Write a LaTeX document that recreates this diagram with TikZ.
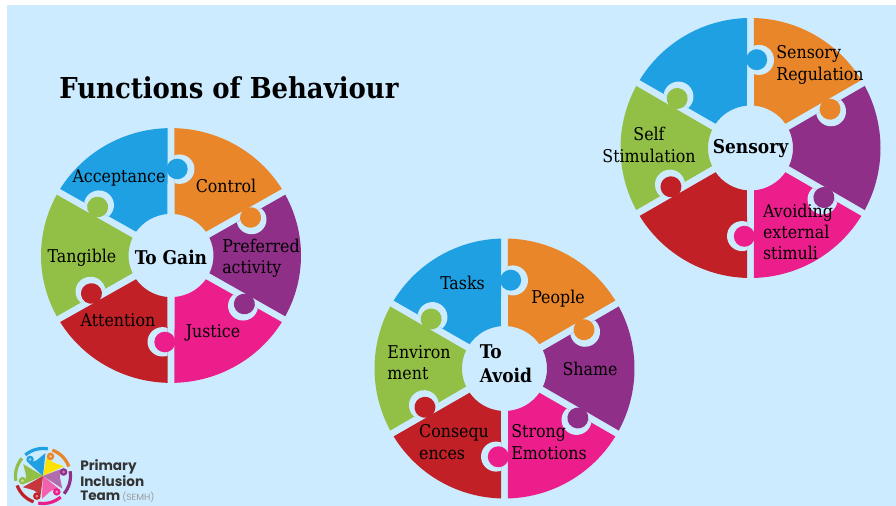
\documentclass[tikz,border=0pt]{standalone}
\usepackage{fontspec}
\setmainfont{DejaVu Serif Condensed}
\newfontfamily\logofont{Poppins}
\usetikzlibrary{positioning}

\definecolor{sky}{HTML}{CDEBFE}
\definecolor{wOrange}{HTML}{E9862A}
\definecolor{wPurple}{HTML}{8F2F87}
\definecolor{wPink}{HTML}{EC1E8B}
\definecolor{wRed}{HTML}{C12026}
\definecolor{wGreen}{HTML}{92BF45}
\definecolor{wBlue}{HTML}{1EA0E2}

\newcommand{\piecepath}{(88.5:130) arc[start angle=88.5,end angle=31.5,radius=130]
	-- (34.8:42.5) arc[start angle=34.8,end angle=85.2,radius=42.5] -- cycle}

\newcommand{\wheel}[3]{
	\foreach \i/\cur/\prev in {0/wOrange/wBlue,1/wPurple/wOrange,2/wPink/wPurple,
			3/wRed/wPink,4/wGreen/wRed,5/wBlue/wGreen}{
		\begin{scope}[shift={(#1,#2)},yscale=#3,rotate={-60*\i}]
			\fill[\cur] \piecepath;
			\begin{scope}
				\clip \piecepath;
				\fill[sky] (84.5:88.5) circle (15);
			\end{scope}
			\fill[\prev] (86:88.5) circle (10.5);
		\end{scope}
	}
}

\tikzset{
	lbl/.style={font=\fontsize{13.2}{16}\selectfont,text=black,inner sep=0pt,align=left},
	hub/.style={font=\fontsize{14.2}{18}\selectfont\bfseries,text=black,inner sep=0pt,align=left},
	logotxt/.style={font=\logofont\fontsize{10.2}{12}\selectfont\bfseries,text=black!80,inner sep=0pt,anchor=west}
}

\begin{document}
\begin{tikzpicture}[x=0.75pt,y=0.75pt]

	\useasboundingbox (0,0) rectangle (896,506);
	\fill[white] (0,0) rectangle (896,506);
	\fill[sky] (7,0) rectangle (896,501);

	\wheel{171}{250.5}{.98}
	\wheel{504.5}{137.5}{1}
	\wheel{750.5}{358}{1}

	\node[font=\fontsize{21.6}{24}\selectfont\bfseries,text=black,inner sep=0pt] (title) at (229,418) {Functions of Behaviour};

	% first wheel
	\node[hub] (gain) at (171,249) {To Gain};
	\node[lbl] (a1) at (226,320) {Control};
	\node[lbl] (a2) at (261,248) {Preferred\\activity};
	\node[lbl] (a3) at (213,173) {Justice};
	\node[lbl] (a4) at (118,186) {Attention};
	\node[lbl] (a5) at (82,248) {Tangible};
	\node[lbl] (a6) at (119,328) {Acceptance};

	% second wheel
	\node[hub] (avoid) at (506,142) {To\\Avoid};
	\node[lbl] (b1) at (558,207) {People};
	\node[lbl] (b2) at (590,137) {Shame};
	\node[lbl] (b3) at (549,64) {Strong\\Emotions};
	\node[lbl] (b4) at (454,64) {Consequ\\ences};
	\node[lbl] (b5) at (419,143.5) {Environ\\ment};
	\node[lbl] (b6) at (462.5,223) {Tasks};

	% third wheel
	\node[hub] (sens) at (750.5,357) {Sensory};
	\node[lbl] (c1) at (820,441) {Sensory\\Regulation};
	\node[lbl,align=center] (c2) at (649,361) {Self\\Stimulation};
	\node[lbl] (c3) at (798,274) {Avoiding\\external\\stimuli};

	% logo
	\begin{scope}[shift={(43,30)}]
		\foreach \a/\c in {105/wBlue,45/wOrange,-15/wPurple,-75/wPink,-135/wRed,165/wGreen}{
			\draw[\c,line width=2.4pt] ({\a+25}:27.5) arc[start angle={\a+25},end angle={\a-25},radius=27.5];
		}
		\foreach \a/\c/\d in {128/wBlue/wBlue,69/yellow!85!orange/wOrange,11/wPurple!70/wPurple,
				-49/wPink!70/wPink,-107/wRed!90/wRed,-167/wGreen/wGreen}{
			\fill[\c] (0,0) -- ({\a-44}:23) -- ({\a-16}:17) -- ({\a+10}:19) -- cycle;
			\fill[\d] (\a:21) circle (3.8);
			\fill[white,opacity=.45] (\a:21) circle (1.6);
		}
	\end{scope}
	\node[logotxt] (p1) at (80,39) {Primary};
	\node[logotxt] (p2) at (80,24.5) {Inclusion};
	\node[logotxt] (p3) at (80,10) {Team};
	\node[logotxt,font=\logofont\fontsize{6.8}{7}\selectfont,text=black!40] (p4) at (122,8.5) {(SEMH)};

\end{tikzpicture}
\end{document}
